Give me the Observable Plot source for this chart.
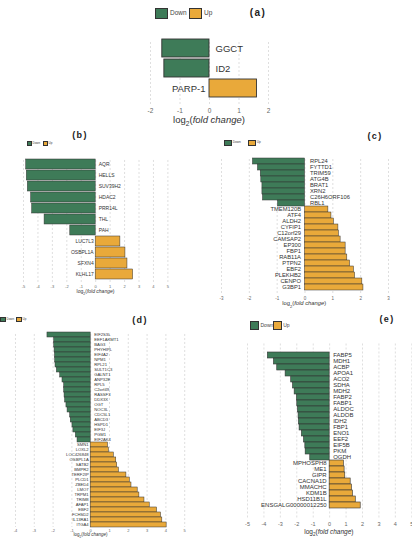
<!DOCTYPE html>
<html>
<head>
<meta charset="utf-8">
<script src="https://cdn.jsdelivr.net/npm/d3@7"></script>
<script src="https://cdn.jsdelivr.net/npm/@observablehq/plot@0.6"></script>
<style>
  body { margin: 0; background: #fff; }
  #fig { position: relative; width: 412px; height: 539px; overflow: hidden;
         font-family: "Liberation Sans", Arial, sans-serif; color: #333; }
  .abs { position: absolute; white-space: nowrap; line-height: 1; }
  .box { position: absolute; border: 0.8px solid #333; box-sizing: border-box; }
  .xl { transform: translate(-50%, -50%); color: #333; }
  .tag { transform: translate(-50%, -50%); font-weight: bold; letter-spacing: 0.15em; color: #222; }
</style>
</head>
<body>
<div id="fig"></div>
<script>
const DOWN = "#3e7b58";
const UP = "#e9a93a";

// (a)
const aGenes = ["GGCT", "ID2", "PARP-1"];
const aValues = [-1.6, -1.53, 1.61];

// (b)
const bGenes = ["AQR", "HELLS", "SUV39H2", "HDAC2", "PRR14L", "THL", "PAH",
                "LUC7L3", "OSBPL1A", "SFXN4", "KLHL17"];
const bValues = [-4.81, -4.77, -4.7, -4.47, -4.4, -3.54, -1.76, 1.71, 2.06, 2.2, 2.59];

// (c)
const cGenes = ["RPL24", "FYTTD1", "TRIM59", "ATG4B", "BRAT1", "XRN2", "C26H6ORF106", "RBL1",
                "TMEM120B", "ATF4", "ALDH2", "CYFIP1", "C12orf29", "CAMSAP2", "EP300", "FBP1",
                "RAB11A", "PTPN2", "EBF2", "PLEKHB2", "CENPO", "G3BP1"];
const cValues = [-1.87, -1.69, -1.59, -1.57, -1.53, -1.53, -1.51, -0.97,
                 0.84, 0.95, 1.04, 1.2, 1.22, 1.28, 1.46, 1.46, 1.52, 1.62, 1.76, 1.8, 2.06, 2.1];

// (d)
const dGenes = ["EIF2S3L", "EEF1AKMT1", "BAG3", "PHYHIPL", "EIF4A2", "NPM1", "RPL21", "SULT1C3",
                "GALNT1", "ANP32E", "RPL5", "C2orf49", "RASSF3", "DDX3X", "OGT", "NOC3L", "CDC5L1",
                "ABCD3", "HSPD1", "EIF3J", "PGM1", "EIF2AK4",
                "SMN1", "LOXL2", "LOC426848", "OSBPL1A", "SATB2", "BMPR2", "TERF2IP", "PLCD1",
                "ZBED4", "LMO7", "TRPM1", "TRIM8", "AFAP1", "EBF2", "FCHSD2", "IL13RA1", "ITGA4"];
const dValues = [-2.3, -1.94, -1.94, -1.92, -1.9, -1.89, -1.87, -1.8, -1.62, -1.5, -1.41,
                 -1.41, -1.39, -1.36, -1.29, -1.23, -1.09, -1.06, -0.97, -0.92, -0.79, -0.7,
                 0.92, 0.97, 1.23, 1.36, 1.41, 1.5, 1.9, 2.08, 2.17, 2.5, 2.59, 2.86, 3.14,
                 3.53, 3.74, 3.81, 4.04];

// (e)
const eGenes = ["FABP5", "MDH1", "ACBP", "APOA1", "ACO2", "SDHA", "MDH2", "FABP2", "FABP1",
                "ALDOC", "ALDOB", "IDH2", "FBP1", "ENO1", "EEF2", "EIF5B", "PKM", "OGDH",
                "MPHOSPH8", "ME1", "GIPR", "CACNA1D", "MMACHC", "KDM1B", "HSD11B1L",
                "ENSGALG00000012250"];
const eValues = [-3.76, -3.39, -3.19, -2.68, -2.34, -2.23, -2.13, -1.99, -1.97, -1.93, -1.89,
                 -1.87, -1.83, -1.69, -1.56, -1.48, -1.46, -1.18,
                 0.87, 0.91, 0.95, 1.28, 1.36, 1.42, 1.59, 1.89];

const fig = document.getElementById("fig");

function addHTML(cls, left, top, html, style = {}) {
  const el = document.createElement("div");
  el.className = cls;
  el.style.left = left + "px";
  el.style.top = top + "px";
  Object.assign(el.style, style);
  el.innerHTML = html;
  fig.appendChild(el);
  return el;
}

function legend(x, y, w, h, fs, gap, upX) {
  addHTML("box", x, y, "", {width: w + "px", height: h + "px", background: DOWN});
  addHTML("abs", x + w + gap, y + h / 2 - fs / 2, "Down", {fontSize: fs + "px", color: "#444"});
  addHTML("box", upX, y, "", {width: w + "px", height: h + "px", background: UP});
  addHTML("abs", upX + w + gap, y + h / 2 - fs / 2, "Up", {fontSize: fs + "px", color: "#444"});
}

function panel(p) {
  const M = 40;
  const data = p.genes.map((gene, i) => ({gene, value: p.values[i]}));
  const down = data.filter(d => d.value < 0);
  const up = data.filter(d => d.value >= 0);
  const ticks = d3.range(p.domain[0], p.domain[1] + 1);
  const width = p.x1 - p.x0 + 2 * M;
  const height = p.y1 - p.y0 + 2 * M;
  const svg = Plot.plot({
    width, height,
    marginLeft: M, marginRight: M, marginTop: M, marginBottom: M,
    style: {background: "transparent", overflow: "visible", maxWidth: "none",
            fontFamily: "'Liberation Sans', Arial, sans-serif"},
    x: {domain: p.domain},
    y: {domain: p.genes, padding: p.pad ?? 0.08, axis: null},
    marks: [
      Plot.ruleX(ticks, {x: d => d, stroke: "#c9c9c9", strokeWidth: 0.6,
                         strokeDasharray: "2,2",
                         insetTop: p.y0 - p.gTop, insetBottom: p.y1 - p.gBottom}),
      Plot.barX(down, {x: "value", y: "gene", fill: DOWN, stroke: "#333", strokeWidth: p.sw}),
      Plot.barX(up, {x: "value", y: "gene", fill: UP, stroke: "#333", strokeWidth: p.sw}),
      Plot.text(down, {x: () => 0, y: "gene", text: "gene", textAnchor: "start",
                       dx: p.dxR, fontSize: p.fs, fill: "#333"}),
      Plot.text(up, {x: () => 0, y: "gene", text: "gene", textAnchor: "end",
                     dx: p.dxL, fontSize: p.fs, fill: "#333"}),
      Plot.axisX({ticks, tickSize: 0, tickFormat: d => String(d),
                  tickPadding: p.tickY - p.y1 - 0.36 * p.tfs,
                  fontSize: p.tfs, fill: "#666", label: null})
    ]
  });
  const wrap = document.createElement("div");
  wrap.style.position = "absolute";
  wrap.style.left = (p.x0 - M) + "px";
  wrap.style.top = (p.y0 - M) + "px";
  wrap.style.width = width + "px";
  wrap.style.height = height + "px";
  wrap.appendChild(svg);
  fig.appendChild(wrap);
  const zeroX = p.x0 + (0 - p.domain[0]) / (p.domain[1] - p.domain[0]) * (p.x1 - p.x0);
  addHTML("abs xl", zeroX, p.labelY, "log<sub style='font-size:0.7em'>2</sub>(<i>fold change</i>)",
          {fontSize: p.lfs + "px"});
}

// (a)
panel({genes: aGenes, values: aValues, domain: [-2, 2], x0: 150, x1: 268, y0: 36, y1: 100,
       gTop: 30, gBottom: 105, fs: 9.5, tfs: 6.5, lfs: 9.5, dxR: 6, dxL: -4,
       tickY: 110, labelY: 121, sw: 0.9, pad: 0.09});
legend(155, 8, 13, 11, 6.5, 2, 189);
addHTML("abs tag", 258, 13, "(a)", {fontSize: "10px"});

// (b)
panel({genes: bGenes, values: bValues, domain: [-5, 5], x0: 23.3, x1: 167.7, y0: 156, y1: 282,
       gTop: 152, gBottom: 284, fs: 5, tfs: 4, lfs: 5, dxR: 3, dxL: -2,
       tickY: 286.5, labelY: 293, sw: 0.5});
legend(27, 141, 4.5, 4.5, 3, 1, 43);
addHTML("abs tag", 80, 135, "(b)", {fontSize: "9px"});

// (c)
panel({genes: cGenes, values: cValues, domain: [-3, 3], x0: 220.7, x1: 387.7, y0: 156, y1: 292,
       gTop: 153, gBottom: 294, fs: 5.8, tfs: 4.5, lfs: 5.8, dxR: 5, dxL: -4,
       tickY: 298, labelY: 304.5, sw: 0.5});
legend(224, 140, 7.5, 5.5, 3.2, 1.2, 248);
addHTML("abs tag", 375, 136, "(c)", {fontSize: "9px"});

// (d)
panel({genes: dGenes, values: dValues, domain: [-4, 5], x0: 15.3, x1: 184.5, y0: 331, y1: 527,
       gTop: 328, gBottom: 527, fs: 4.2, tfs: 4, lfs: 4.5, dxR: 3.5, dxL: -2,
       tickY: 530.5, labelY: 536, sw: 0.5});
legend(0, 317, 5.5, 5, 3, 1, 16);
addHTML("abs tag", 140, 320, "(d)", {fontSize: "9px"});

// (e)
panel({genes: eGenes, values: eValues, domain: [-5, 5], x0: 246.7, x1: 411, y0: 342, y1: 518,
       gTop: 340.5, gBottom: 519, fs: 6, tfs: 5.5, lfs: 6.5, dxR: 3.5, dxL: -3,
       tickY: 524, labelY: 533, sw: 0.6});
legend(250, 321, 9, 9, 5, 1.5, 272.7);
addHTML("abs tag", 387, 319, "(e)", {fontSize: "9px"});
</script>
</body>
</html>
